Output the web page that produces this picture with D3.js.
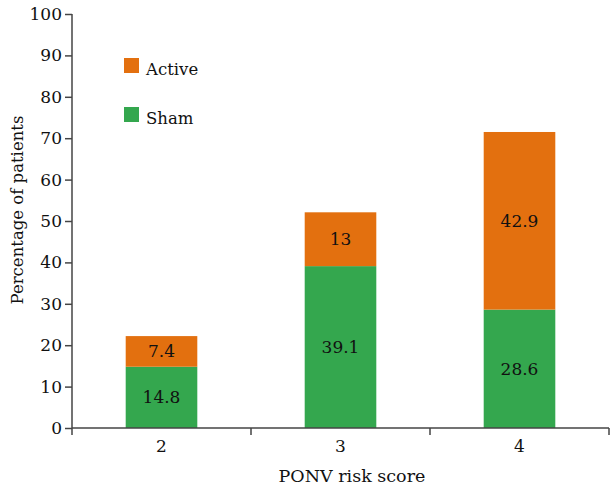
<!DOCTYPE html>
<html>
<head>
<meta charset="utf-8">
<script src="https://cdn.jsdelivr.net/npm/d3@7"></script>
<style>
  html, body { margin: 0; padding: 0; background: #fff; }
  svg text { font-family: "DejaVu Serif", serif !important; }
</style>
</head>
<body>
<svg id="chart" width="610" height="488"></svg>
<script>
// PONV risk score categories and stacked percentages
const categories = ["2", "3", "4"];
const shamValues = [14.8, 39.1, 28.6];
const activeValues = [7.4, 13, 42.9];
const seriesNames = ["Sham", "Active"];
const yTicks = [0, 10, 20, 30, 40, 50, 60, 70, 80, 90, 100];

const colors = { Sham: "#34a74e", Active: "#e3700f" };
const fontStack = '"DejaVu Serif", serif';

const svg = d3.select("#chart").attr("font-family", fontStack);
const margin = { left: 72, right: 1, top: 14, bottom: 60 };
const W = 610, H = 488;

const rows = categories.map((c, i) => ({ cat: c, Sham: shamValues[i], Active: activeValues[i] }));
const stacked = d3.stack().keys(seriesNames)(rows);

const x = d3.scaleBand()
  .domain(categories)
  .range([margin.left, W - margin.right])
  .paddingInner(0.6)
  .paddingOuter(0.3);

const y = d3.scaleLinear()
  .domain([0, 100])
  .range([H - margin.bottom, margin.top]);

const axisColor = "#454545";

// bars
const g = svg.append("g");
stacked.forEach(layer => {
  g.selectAll(null)
    .data(layer)
    .join("rect")
    .attr("x", d => x(d.data.cat))
    .attr("y", d => y(d[1]))
    .attr("width", x.bandwidth())
    .attr("height", d => y(d[0]) - y(d[1]))
    .attr("fill", colors[layer.key]);
});

// value labels centred in each segment
stacked.forEach(layer => {
  g.selectAll(null)
    .data(layer)
    .join("text")
    .attr("x", d => x(d.data.cat) + x.bandwidth() / 2)
    .attr("y", d => (y(d[0]) + y(d[1])) / 2)
    .attr("dy", "0.35em")
    .attr("text-anchor", "middle")
    .attr("font-size", 17)
    .attr("fill", "#111")
    .text(d => d.data[layer.key]);
});

// y axis
const yAxis = svg.append("g")
  .attr("transform", `translate(${margin.left},0)`)
  .call(d3.axisLeft(y).tickValues(yTicks).tickSize(7).tickPadding(3));
yAxis.attr("font-family", fontStack);
yAxis.selectAll("text").attr("font-size", 17).attr("fill", "#111");
yAxis.selectAll("line, path").attr("stroke", axisColor).attr("stroke-width", 1.5);
yAxis.select(".domain").attr("d", `M0,${y(100)}V${y(0)}`);

// x axis: baseline with ticks at category boundaries
const x0 = margin.left, x1 = W - margin.right;
const xAxis = svg.append("g");
xAxis.append("line")
  .attr("x1", x0).attr("x2", x1)
  .attr("y1", y(0)).attr("y2", y(0))
  .attr("stroke", axisColor).attr("stroke-width", 1.5);
const boundaries = categories.map(c => x(c) - x.step() * x.paddingInner() / 2)
  .concat([x(categories[categories.length - 1]) + x.bandwidth() + x.step() * x.paddingInner() / 2]);
xAxis.selectAll(null)
  .data(boundaries)
  .join("line")
  .attr("x1", d => d).attr("x2", d => d)
  .attr("y1", y(0)).attr("y2", y(0) + 7)
  .attr("stroke", axisColor).attr("stroke-width", 1.5);
xAxis.selectAll(null)
  .data(categories)
  .join("text")
  .attr("x", d => x(d) + x.bandwidth() / 2)
  .attr("y", y(0) + 24)
  .attr("text-anchor", "middle")
  .attr("font-size", 17)
  .attr("fill", "#111")
  .text(d => d);

// axis titles
svg.append("text")
  .attr("x", 352)
  .attr("y", 482)
  .attr("text-anchor", "middle")
  .attr("font-size", 17.5)
  .attr("fill", "#111")
  .text("PONV risk score");

svg.append("text")
  .attr("transform", "translate(23,210) rotate(-90)")
  .attr("text-anchor", "middle")
  .attr("font-size", 16.5)
  .attr("fill", "#111")
  .text("Percentage of patients");

// legend
const legendItems = ["Active", "Sham"];
const legend = svg.append("g");
legendItems.forEach((name, i) => {
  const ly = 58 + i * 49;
  legend.append("rect")
    .attr("x", 124).attr("y", ly)
    .attr("width", 15).attr("height", 15)
    .attr("fill", colors[name]);
  legend.append("text")
    .attr("x", 146).attr("y", ly + 17)
    .attr("font-size", 16.5)
    .attr("fill", "#111")
    .text(name);
});
</script>
</body>
</html>
